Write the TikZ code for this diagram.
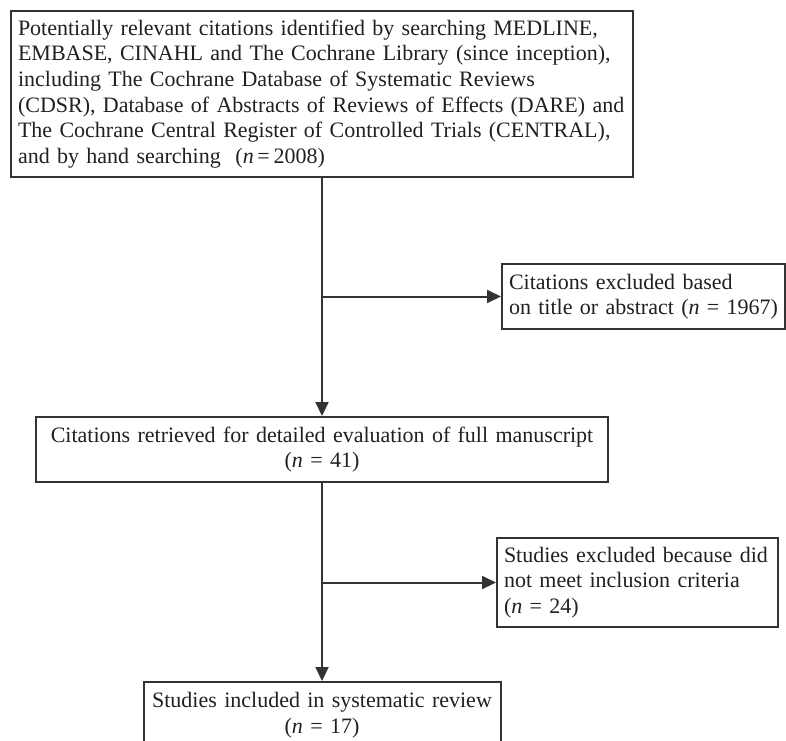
\documentclass[tikz,border=0pt]{standalone}
\usepackage{fontspec}
\setmainfont{Liberation Serif}
\usetikzlibrary{arrows.meta}
\definecolor{ln}{HTML}{333333}
\definecolor{tx}{HTML}{231F20}
\newcommand{\ml}[1]{\mbox{#1}}
\begin{document}
\begin{tikzpicture}[x=1pt,y=-1pt,
  box/.style={draw=ln, line width=2pt, text=tx, inner sep=7pt,
    font=\fontsize{22}{25.6}\selectfont, anchor=center},
  conn/.style={draw=ln, line width=2pt},
  arr/.style={conn, -{Triangle[length=14pt,width=13pt]}}]
\useasboundingbox (0,0) rectangle (786,740);
\clip (0,0) rectangle (786,740);
\node[box, minimum width=622pt, minimum height=166pt, text width=608pt, align=left] (b1) at (322,94)
 {\ml{Potentially relevant citations identified by searching MEDLINE,}\\
  \ml{EMBASE, CINAHL and The Cochrane Library (since inception),}\\
  \ml{including The Cochrane Database of Systematic Reviews}\\
  \ml{(CDSR), Database of Abstracts of Reviews of Effects (DARE) and}\\
  \ml{The Cochrane Central Register of Controlled Trials (CENTRAL),}\\
  \ml{and by hand searching\ \ (\textit{n}\,=\,2008)}};
\node[box, minimum width=283pt, minimum height=65pt, text width=269pt, align=left] (b2) at (643.5,296.5)
 {\ml{Citations excluded based}\\ \ml{on title or abstract (\textit{n} = 1967)}};
\node[box, minimum width=572pt, minimum height=65pt, text width=558pt, align=center] (b3) at (322,449.5)
 {\ml{Citations retrieved for detailed evaluation of full manuscript}\\ \ml{(\textit{n} = 41)}};
\node[box, minimum width=281pt, minimum height=89pt, text width=267pt, align=left] (b4) at (637.5,582.5)
 {\ml{Studies excluded because did}\\ \ml{not meet inclusion criteria}\\ \ml{(\textit{n} = 24)}};
\node[box, minimum width=357pt, minimum height=66pt, text width=343pt, align=center] (b5) at (322,715)
 {\ml{Studies included in systematic review}\\ \ml{(\textit{n} = 17)}};
\coordinate (j1) at (322,296.5);
\coordinate (j2) at (322,582.5);
\draw[arr] (b1.south) -- (b3.north);
\draw[arr] (j1) -- (b2.west);
\draw[arr] (b3.south) -- (b5.north);
\draw[arr] (j2) -- (b4.west);
\end{tikzpicture}
\end{document}
